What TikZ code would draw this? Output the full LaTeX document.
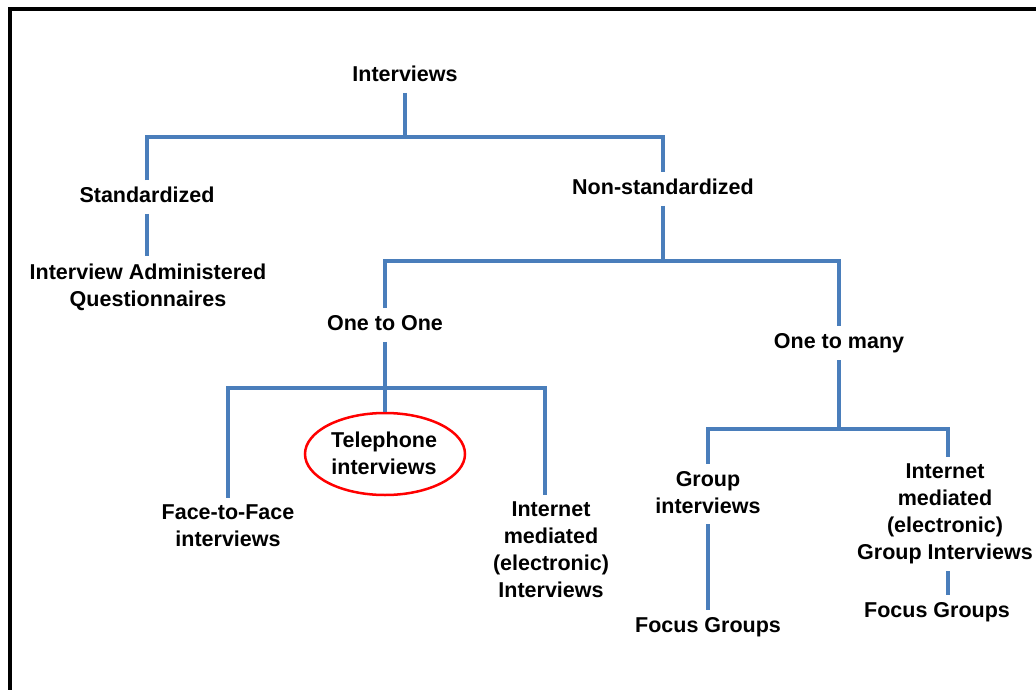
\documentclass[tikz,border=0pt]{standalone}
\usepackage{fontspec}
\setmainfont{Liberation Sans}
\usetikzlibrary{shapes.geometric}
\definecolor{treeblue}{RGB}{74,126,187}
\newcommand\nodestrut{\vrule height 15.5pt depth 4pt width 0pt}
\begin{document}
\begin{tikzpicture}[x=1pt,y=-1pt,
  lbl/.style={font=\bfseries\fontsize{21.5}{27}\selectfont, align=center,
    inner xsep=2pt, inner ysep=7pt,
    execute at begin node=\nodestrut, execute at end node=\nodestrut},
  link/.style={draw=treeblue, line width=4pt, line join=miter},
]
\useasboundingbox (0,0) rectangle (1036,690);
\fill[white] (0,0) rectangle (1036,690);
\draw[line width=4pt, black] (9.5,690) -- (9.5,9.5) -- (1036,9.5);

% levels of the tree
\coordinate (bar1) at (0,137);
\coordinate (bar2) at (0,261);
\coordinate (bar3) at (0,388);
\coordinate (bar4) at (0,429);

\node[lbl] (int)  at (405,76)  {Interviews};
\node[lbl] (std)  at (147,197) {Standardized};
\node[lbl] (iaq)  at (148,287) {Interview Administered\\Questionnaires};
\node[lbl] (nstd) at (663,189) {Non-standardized};
\node[lbl] (o2o)  at (385,325) {One to One};
\node[lbl] (o2m)  at (839,343) {One to many};
\node[lbl] (tel)  at (384,455) {Telephone\\interviews};
\node[lbl] (f2f)  at (228,528) {Face-to-Face\\interviews};
\node[lbl] (imi)  at (551,552) {Internet\\mediated\\(electronic)\\Interviews};
\node[lbl] (grp)  at (708,494) {Group\\interviews};
\node[lbl] (fg1)  at (708,627) {Focus Groups};
\node[lbl] (imgi) at (945,514) {Internet\\mediated\\(electronic)\\Group Interviews};
\node[lbl] (fg2)  at (937,612) {Focus Groups};
\node[draw=red, line width=2.5pt, ellipse, minimum width=160, minimum height=82] (ring) at (385,454) {};

% Interviews
\draw[link] (int.south) -- (int.south |- bar1);
\draw[link] (std.north) -- (std.north |- bar1) -- (nstd.north |- bar1) -- (nstd.north);
\draw[link] (std.south) -- (std.south |- iaq.north);

% Non-standardized
\draw[link] (nstd.south) -- (nstd.south |- bar2);
\draw[link] (o2o.north) -- (o2o.north |- bar2) -- (o2m.north |- bar2) -- (o2m.north);

% One to One
\draw[link] (o2o.south) -- (o2o.south |- bar3);
\draw[link] (f2f.north) -- (f2f.north |- bar3) -- ([xshift=-6pt]imi.north |- bar3) -- ([xshift=-6pt]imi.north);
\draw[link] (ring.north |- bar3) -- (ring.north);

% One to many
\draw[link] (o2m.south) -- (o2m.south |- bar4);
\draw[link] (grp.north) -- (grp.north |- bar4) -- ([xshift=3pt]imgi.north |- bar4) -- ([xshift=3pt]imgi.north);
\draw[link] (grp.south) -- (fg1.north);
\draw[link] ([xshift=3pt]imgi.south) -- ([xshift=3pt]imgi.south |- fg2.north);
\end{tikzpicture}
\end{document}
